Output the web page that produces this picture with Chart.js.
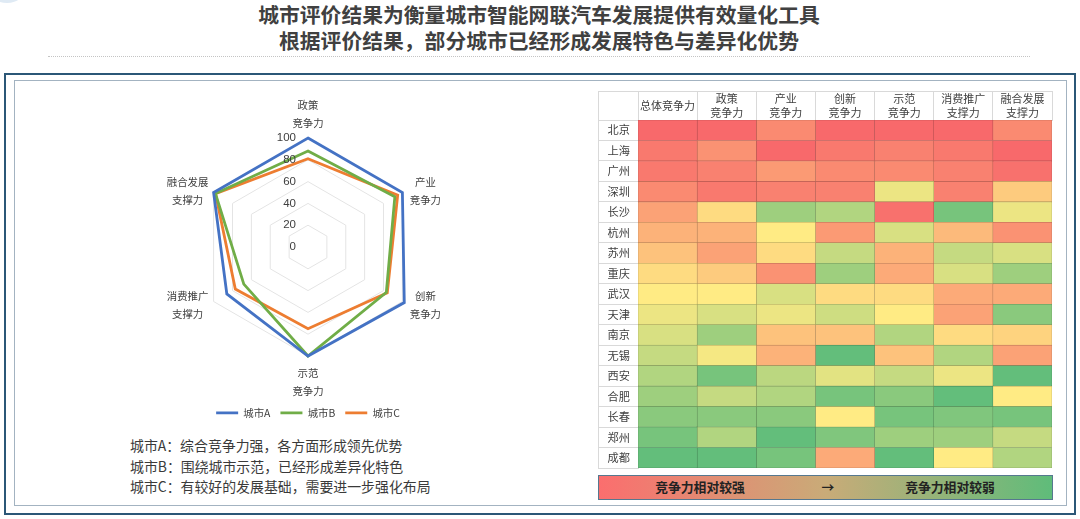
<!DOCTYPE html>
<html lang="zh-CN">
<head>
<meta charset="UTF-8">
<title>城市评价结果</title>
<script src="https://cdn.jsdelivr.net/npm/chart.js"></script>
<style>
    html, body { margin: 0; width: 1080px; height: 519px; overflow: hidden; background: #fff; font-family: "Noto Sans CJK SC", sans-serif; }
    .abs { position: absolute; }
    #blob { left: -12px; top: -28px; width: 38px; height: 31px; border-radius: 50%; background: #dfeaf4; }
    .title { left: 0; width: 1078px; text-align: center; font-size: 20.8px; font-weight: 700; color: #404040; line-height: 26px; white-space: nowrap; }
    #dots { left: 48px; top: 56px; width: 982px; border-top: 1px dotted #c4c4c4; }
    #outer { left: 4px; top: 73px; width: 1068px; height: 438px; border: 2px solid #2b5777; }
    #inner { left: 14px; top: 80px; width: 1051px; height: 424px; border: 1px solid #a3b3c1; }
    #radarChart { left: 128px; top: 90px; }
    #heatBox { left: 598px; top: 91px; border-left: 1px solid #d9d9d9; border-top: 1px solid #d9d9d9; line-height: 0; }
    .note { left: 130px; font-size: 13.9px; color: #3a3a3a; line-height: 20px; white-space: nowrap; }
    #scaleBar { left: 598px; top: 475px; width: 453px; height: 23px; border: 1px solid #56788f; background: linear-gradient(to right, #FB6E6E, #C9AB78 50%, #5FBC7A); }
    .scaleText { top: 478px; font-size: 12.8px; font-weight: 700; color: #222; line-height: 18px; transform: translateX(-50%); white-space: nowrap; }
</style>
</head>
<body>
    <div id="blob" class="abs"></div>
    <div class="abs title" style="top:1px">城市评价结果为衡量城市智能网联汽车发展提供有效量化工具</div>
    <div class="abs title" style="top:27px">根据评价结果，部分城市已经形成发展特色与差异化优势</div>
    <div id="dots" class="abs"></div>
    <div id="outer" class="abs"></div>
    <div id="inner" class="abs"></div>

    <canvas id="radarChart" class="abs" width="360" height="338"></canvas>
    <div id="heatBox" class="abs"><canvas id="heatChart" width="454" height="377"></canvas></div>

    <div class="abs note" style="top:435px">城市A：综合竞争力强，各方面形成领先优势</div>
    <div class="abs note" style="top:456px">城市B：围绕城市示范，已经形成差异化特色</div>
    <div class="abs note" style="top:476px">城市C：有较好的发展基础，需要进一步强化布局</div>

    <div id="scaleBar" class="abs"></div>
    <div class="abs scaleText" style="left:700px">竞争力相对较强</div>
    <div class="abs scaleText" style="left:828px">→</div>
    <div class="abs scaleText" style="left:950px">竞争力相对较弱</div>

    <script>
        // radar data
        const radarLabels = [['政策', '竞争力'], ['产业', '竞争力'], ['创新', '竞争力'], ['示范', '竞争力'], ['消费推广', '支撑力'], ['融合发展', '支撑力']];
        const cityA = [100, 100, 102, 100, 86, 100];
        const cityB = [88, 92, 83, 100, 68, 98];
        const cityC = [81, 95, 84, 75, 77, 98];

        // heatmap data: position on the colour scale per column, 1 = strongest, 17 = weakest
        const cities = ['北京', '上海', '广州', '深圳', '长沙', '杭州', '苏州', '重庆', '武汉', '天津', '南京', '无锡', '西安', '合肥', '长春', '郑州', '成都'];
        const metricLabels = [['总体竞争力'], ['政策', '竞争力'], ['产业', '竞争力'], ['创新', '竞争力'], ['示范', '竞争力'], ['消费推广', '支撑力'], ['融合发展', '支撑力']];
        const overallRank = [1, 2, 2, 3, 4.5, 5.5, 6.5, 8, 9, 10, 11, 12, 13, 14, 15, 16, 17];
        const policyRank = [1, 3.5, 2.5, 2, 8, 5.5, 4.5, 7, 9, 11, 14, 9.5, 16, 12, 15, 13, 17];
        const industryRank = [3, 1, 4, 2.5, 14, 9, 8, 3.5, 11, 10, 6.5, 5.5, 12.5, 13, 15, 17, 16];
        const innovationRank = [1, 2, 3, 2.5, 13, 4, 12, 14, 8, 11.5, 6.5, 17, 10.5, 16, 9, 15.5, 5];
        const demoRank = [1, 2.5, 3, 10, 1.5, 11, 5.5, 5, 8, 9, 13, 6.5, 12, 15, 16, 14, 17];
        const consumptionRank = [1, 2, 2.5, 2.5, 16, 6, 12, 11, 5, 4.5, 8, 13, 10, 17, 15.5, 14, 9];
        const integrationRank = [3, 1, 1.5, 7, 10, 3.5, 11, 14, 5, 15, 7.5, 4.5, 17, 9, 16, 12, 13];
        const heatColumns = [overallRank, policyRank, industryRank, innovationRank, demoRank, consumptionRank, integrationRank];

        // Excel style red - yellow - green scale
        function heatRgb(rank) {
            const red = [248, 105, 107], yellow = [255, 235, 132], green = [99, 190, 123];
            const mid = 9;
            const from = rank <= mid ? red : yellow;
            const to = rank <= mid ? yellow : green;
            const t = rank <= mid ? (rank - 1) / (mid - 1) : (rank - mid) / (17 - mid);
            return from.map((c, i) => Math.round(c + (to[i] - c) * t));
        }
        function heatColor(rank) {
            return 'rgb(' + heatRgb(rank).join(',') + ')';
        }
        // cell outline is a darker shade of the cell itself
        function heatEdge(rank) {
            return 'rgb(' + heatRgb(rank).map(c => Math.round(c * 0.72)).join(',') + ')';
        }

        Chart.defaults.font.family = '"Noto Sans CJK SC", sans-serif';
        Chart.defaults.animation = false;

        // tick numbers sit left of the axis, point labels are centred line by line
        const radarText = {
            id: 'radarText',
            afterDatasetsDraw(chart) {
                const ctx = chart.ctx, scale = chart.scales.r;
                ctx.save();
                ctx.fillStyle = '#404040';
                ctx.textBaseline = 'middle';
                ctx.textAlign = 'right';
                ctx.font = '11.5px "Liberation Sans"';
                scale.ticks.forEach(t => {
                    ctx.fillText(t.value, scale.xCenter - 12, scale.yCenter - scale.getDistanceFromCenterForValue(t.value));
                });
                ctx.textAlign = 'center';
                ctx.font = '10.4px "Noto Sans CJK SC"';
                chart.data.labels.forEach((lines, i) => {
                    const p = scale.getPointPosition(i, scale.drawingArea);
                    const dx = p.x - scale.xCenter, dy = p.y - scale.yCenter;
                    let x = p.x, y = p.y;
                    if (Math.abs(dx) < 1) {
                        y += dy < 0 ? -24 : 26;
                    } else {
                        x += dx < 0 ? -26 : 23;
                        y += dy < 0 ? -1.5 : 4;
                    }
                    ctx.fillText(lines[0], x, y - 9);
                    ctx.fillText(lines[1], x, y + 9);
                });
                ctx.restore();
            }
        };

        function radarSeries(label, values, color) {
            return { label: label, data: values, borderColor: color, backgroundColor: color, borderWidth: 2.8, borderJoinStyle: 'miter', pointRadius: 0, fill: false };
        }

        new Chart(document.getElementById('radarChart'), {
            type: 'radar',
            data: {
                labels: radarLabels,
                datasets: [radarSeries('城市A', cityA, '#4472C4'), radarSeries('城市B', cityB, '#70AD47'), radarSeries('城市C', cityC, '#ED7D31')]
            },
            options: {
                responsive: false,
                events: [],
                layout: { padding: { left: 71, right: 71, top: 7, bottom: 0 } },
                scales: {
                    r: {
                        min: 0, max: 100,
                        ticks: { stepSize: 20, display: false },
                        grid: { color: '#e4e4e4', lineWidth: 1 },
                        angleLines: { display: false },
                        pointLabels: { display: false }
                    }
                },
                plugins: {
                    tooltip: { enabled: false },
                    legend: {
                        position: 'bottom',
                        labels: { usePointStyle: true, pointStyle: 'line', pointStyleWidth: 22, boxHeight: 10, padding: 10, color: '#404040', font: { size: 10.4 } }
                    }
                }
            },
            plugins: [radarText]
        });

        new Chart(document.getElementById('heatChart'), {
            type: 'bar',
            data: {
                labels: cities,
                datasets: heatColumns.map((ranks, i) => ({
                    label: metricLabels[i].join(''),
                    data: cities.map(() => 1),
                    backgroundColor: ranks.map(heatColor),
                    borderColor: ranks.map(heatEdge),
                    borderWidth: 0.6,
                    borderSkipped: false,
                    barPercentage: 1,
                    categoryPercentage: 1
                }))
            },
            options: {
                indexAxis: 'y',
                responsive: false,
                events: [],
                layout: { padding: { right: 1, bottom: 1 } },
                scales: {
                    x: { display: false, stacked: true, min: 0, max: 7 },
                    y: {
                        stacked: true,
                        afterFit: s => { s.width = 39; },
                        grid: { drawOnChartArea: false, offset: true, color: '#d9d9d9', tickLength: 39 },
                        border: { color: '#d9d9d9' },
                        ticks: { padding: -31, color: '#404040', font: { size: 11.2 }, autoSkip: false }
                    },
                    x2: {
                        type: 'category',
                        axis: 'x',
                        position: 'top',
                        labels: metricLabels,
                        offset: true,
                        afterFit: s => { s.height = 28; },
                        grid: { drawOnChartArea: false, offset: true, color: '#d9d9d9', tickLength: 28 },
                        border: { color: '#d9d9d9' },
                        ticks: { padding: -21, crossAlign: 'center', maxRotation: 0, autoSkip: false, color: '#404040', font: { size: 11, lineHeight: 1.27 } }
                    }
                },
                plugins: { legend: { display: false }, tooltip: { enabled: false } }
            }
        });
    </script>
</body>
</html>
